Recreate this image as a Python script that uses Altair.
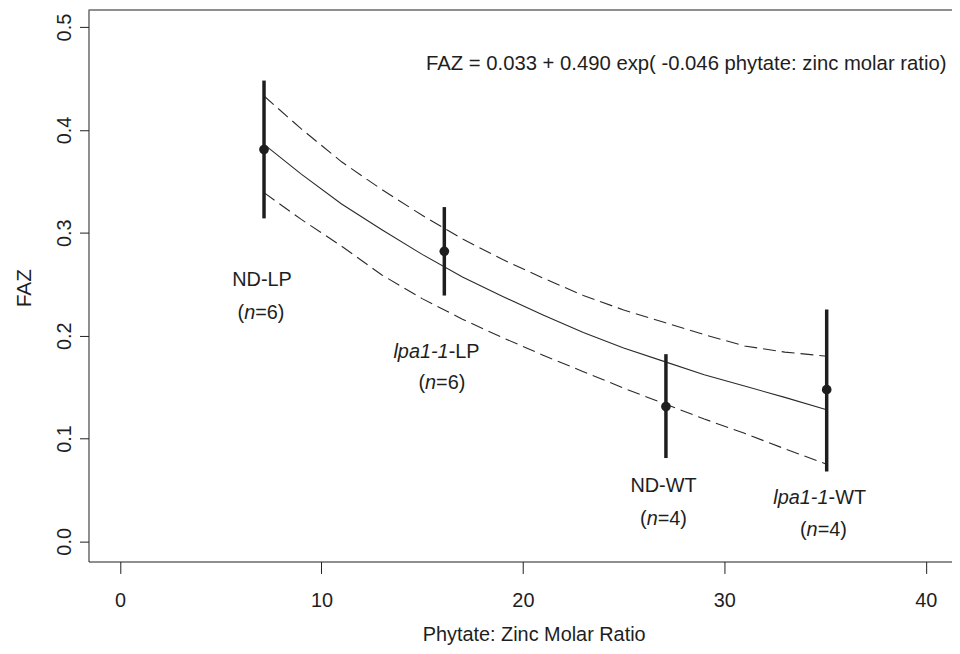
import altair as alt
import pandas as pd

# ---------------- data ----------------
groups = ["ND-LP", "lpa1-1-LP", "ND-WT", "lpa1-1-WT"]
ratio = [7.15, 16.1, 27.1, 35.08]
faz_mean = [0.381, 0.282, 0.131, 0.1475]
faz_low = [0.314, 0.239, 0.081, 0.068]
faz_high = [0.448, 0.325, 0.182, 0.2255]

curve_x = [7.15, 9, 11, 13, 15, 17, 19, 21, 23, 25, 27, 29, 31, 33, 35.08]
fit_y = [0.386, 0.357, 0.328, 0.303, 0.279, 0.257, 0.238, 0.220, 0.203, 0.188, 0.175, 0.162, 0.151, 0.140, 0.128]
upper_y = [0.433, 0.401, 0.369, 0.342, 0.317, 0.294, 0.274, 0.256, 0.239, 0.225, 0.213, 0.201, 0.190, 0.184, 0.180]
lower_y = [0.339, 0.313, 0.287, 0.259, 0.236, 0.216, 0.198, 0.181, 0.165, 0.149, 0.134, 0.119, 0.105, 0.090, 0.075]

# label lines: list of (text, italic) pieces, centre x, centre y (data units)
label_lines = [
    ([("ND-LP", False)], 7.05, 0.2543),
    ([("(", False), ("n", True), ("=6)", False)], 7.0, 0.2222),
    ([("lpa1-1", True), (" -LP", False)], 15.85, 0.1843),
    ([("(", False), ("n", True), ("=6)", False)], 15.98, 0.1543),
    ([("ND-WT", False)], 26.98, 0.0538),
    ([("(", False), ("n", True), ("=4)", False)], 26.98, 0.0219),
    ([("lpa1-1", True), (" -WT", False)], 34.87, 0.0422),
    ([("(", False), ("n", True), ("=4)", False)], 34.92, 0.0113),
]
equation = ["FAZ = 0.033 + 0.490 exp( -0.046 phytate: zinc molar ratio)"]
eq_x, eq_y = [15.19], [0.464]

x_ticks = [0, 10, 20, 30, 40]
y_ticks = [0.0, 0.1, 0.2, 0.3, 0.4, 0.5]

# ---------------- layout / style ----------------
W, H = 869, 555
XMIN, XMAX = -1.563, 41.30
YMIN, YMAX = -0.0196, 0.5166
FONT = "Liberation Sans"
FS = 20
INK = "#1e1e1e"
LINE = "#2a2a2a"

CW = {'N': .722, 'D': .722, '-': .333, 'L': .556, 'P': .667, 'W': .944, 'T': .611,
      '(': .333, ')': .333, 'n': .556, '=': .584, '4': .556, '6': .556, 'l': .222,
      'p': .556, 'a': .556, '1': .556, ' ': .278}


def tw(s):
    return sum(CW.get(c, 0.556) for c in s) * FS


px_per_unit = W / (XMAX - XMIN)
rows = []
for pieces, cx, cy in label_lines:
    total = sum(tw(t) for t, _ in pieces)
    start = -total / 2
    for t, it in pieces:
        rows.append({"t": t, "x": cx + start / px_per_unit, "y": cy, "italic": it})
        start += tw(t)
labels = pd.DataFrame(rows)
eq_df = pd.DataFrame({"t": equation, "x": eq_x, "y": eq_y})

pts = pd.DataFrame({"g": groups, "x": ratio, "m": faz_mean, "lo": faz_low, "hi": faz_high})
curves = pd.DataFrame({"x": curve_x, "fit": fit_y, "up": upper_y, "lo": lower_y})

xs = alt.Scale(domain=[XMIN, XMAX], nice=False, zero=False)
ys = alt.Scale(domain=[YMIN, YMAX], nice=False, zero=False)

x_axis = alt.Axis(values=x_ticks, format="d", tickSize=12, labelPadding=33,
                  labelBaseline="alphabetic", labelAngle=0, labelFlush=False,
                  title="Phytate: Zinc Molar Ratio", titleX=448, titleY=79,
                  titleAlign="center", titleBaseline="alphabetic", grid=False)
y_axis = alt.Axis(values=y_ticks, format=".1f", tickSize=9, labelPadding=9.6,
                  labelAngle=270, labelAlign="center", labelBaseline="alphabetic",
                  labelFlush=False, title="FAZ", titleAngle=270, titleX=-58,
                  titleY=H / 2 + 2, titleAlign="center", titleBaseline="alphabetic",
                  titleFontSize=21, grid=False)


def X(f):
    return alt.X(f, type="quantitative", scale=xs, axis=x_axis)


def Y(f):
    return alt.Y(f, type="quantitative", scale=ys, axis=y_axis)


fit_line = alt.Chart(curves).mark_line(color=LINE, strokeWidth=1.1).encode(x=X("x"), y=Y("fit"))
up_line = alt.Chart(curves).mark_line(color=LINE, strokeWidth=1.1, strokeDash=[13, 6]).encode(x=X("x"), y=Y("up"))
lo_line = alt.Chart(curves).mark_line(color=LINE, strokeWidth=1.1, strokeDash=[13, 6]).encode(x=X("x"), y=Y("lo"))
bars = alt.Chart(pts).mark_rule(color=INK, strokeWidth=3.5).encode(x=X("x"), y=Y("lo"), y2="hi")
dots = alt.Chart(pts).mark_point(filled=True, color=INK, opacity=1, size=95).encode(x=X("x"), y=Y("m"))

txt_norm = alt.Chart(labels).transform_filter("!datum.italic").mark_text(
    align="left", baseline="middle", font=FONT, fontSize=FS, color=INK
).encode(x=X("x"), y=Y("y"), text="t:N")
txt_it = alt.Chart(labels).transform_filter("datum.italic").mark_text(
    align="left", baseline="middle", font=FONT, fontSize=FS, fontStyle="italic", color=INK
).encode(x=X("x"), y=Y("y"), text="t:N")
txt_eq = alt.Chart(eq_df).mark_text(
    align="left", baseline="middle", font=FONT, fontSize=20.4, color=INK
).encode(x=X("x"), y=Y("y"), text="t:N")

top_frame = alt.Chart(pd.DataFrame({"a": [0]})).mark_rule(color=INK, strokeWidth=1).encode(
    x=alt.value(0), x2=alt.value(W), y=alt.value(0)
)

chart = alt.layer(fit_line, up_line, lo_line, bars, dots, txt_norm, txt_it, txt_eq, top_frame).properties(
    width=W, height=H,
    autosize=alt.AutoSizeParams(type="none"),
    padding={"left": 81, "top": 0, "right": 0, "bottom": 83},
    background="white",
).configure_view(stroke=None).configure_axis(
    domainColor=INK, tickColor=INK, labelColor=INK, titleColor=INK,
    labelFont=FONT, titleFont=FONT, labelFontSize=FS, titleFontSize=FS,
    titleFontWeight="normal", domainWidth=1, tickWidth=1
)

chart.save("out.html", embed_options={"renderer": "svg", "actions": False})
